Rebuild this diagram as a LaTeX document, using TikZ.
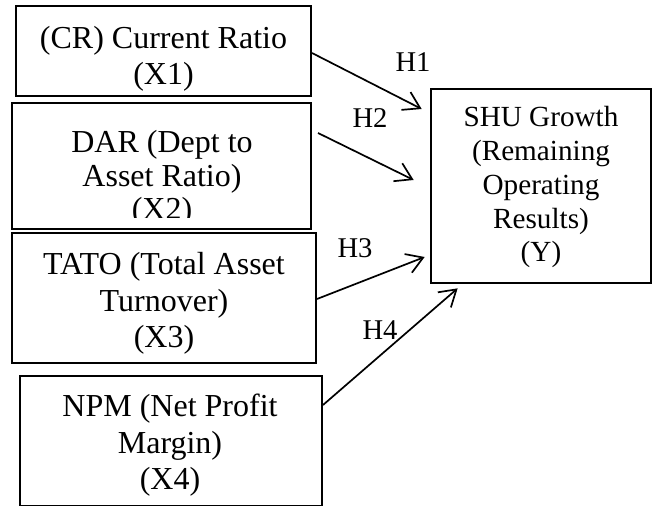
\documentclass[tikz,border=0pt]{standalone}
\usepackage{fontspec}
\setmainfont{Liberation Serif}
\usetikzlibrary{arrows.meta}
\tikzset{>={Straight Barb[length=8pt, width=10pt]}}
\tikzset{var-box/.style={draw, line width=1pt, inner sep=0}}
\tikzset{var-text/.style={align=center, inner sep=0, anchor=base, font={\fontsize{16}{18.35}\selectfont}}}
\tikzset{dep-box/.style={draw, line width=1.35pt, inner sep=0, minimum width=110pt, minimum height=97pt}}
\tikzset{dep-text/.style={align=center, inner sep=0, anchor=base, font={\fontsize{14.6}{16.9}\selectfont}}}
\tikzset{hyp-line/.style={->, line width=0.85pt}}
\tikzset{hyp-label/.style={anchor=base, inner sep=0, font={\fontsize{14.3}{16}\selectfont}}}
\begin{document}
\begin{tikzpicture}[x=0.5pt, y=-0.5pt]
    \useasboundingbox (0,0) rectangle (653,506);

    % independent variables (text placed by its last baseline)
    \node[var-box, minimum width=147.5pt, minimum height=45pt] (cr) at (163.5,51) {};
    \node[var-text] (cr-text) at (163.5,85) {(CR) Current Ratio\\(X1)};

    \node[var-box, minimum width=149.5pt, minimum height=63pt] (dar) at (161.5,166) {};
    \begin{scope}
        \clip (dar.north west) rectangle ([yshift=6pt]dar.south east);
        \node[var-text, font={\fontsize{16}{16.8}\selectfont}] (dar-text) at (162,220) {DAR (Dept to\\Asset Ratio)\\(X2)};
    \end{scope}

    \node[var-box, minimum width=152pt, minimum height=65pt] (tato) at (164,298) {};
    \node[var-text] (tato-text) at (164,348) {TATO (Total Asset\\Turnover)\\(X3)};

    \node[var-box, minimum width=151pt, minimum height=65pt] (npm) at (171,441) {};
    \node[var-text] (npm-text) at (170,490) {NPM (Net Profit\\Margin)\\(X4)};

    % dependent variable
    \node[dep-box] (shu) at (541,186) {};
    \node[dep-text] (shu-text) at (541,262) {SHU Growth\\(Remaining\\Operating\\Results)\\(Y)};

    % arrow ends
    \coordinate (h1-in) at ([xshift=-4pt, yshift=38.5pt]shu.west);
    \coordinate (h2-in) at ([xshift=-8pt, yshift=3pt]shu.west);
    \coordinate (h3-in) at ([xshift=-2.5pt, yshift=-35.5pt]shu.west);
    \coordinate (h4-in) at ([xshift=14pt, yshift=-2pt]shu.south west);

    \draw[hyp-line] ([yshift=-1pt]cr.east) -- (h1-in);
    \draw[hyp-line] ([xshift=3pt, yshift=16.5pt]dar.east) -- (h2-in);
    \draw[hyp-line] ([yshift=-0.5pt]tato.east) -- (h3-in);
    \draw[hyp-line] ([yshift=18pt]npm.east) -- (h4-in);

    \node[hyp-label] (h1) at (413,72) {H1};
    \node[hyp-label] (h2) at (370,128) {H2};
    \node[hyp-label] (h3) at (355,258) {H3};
    \node[hyp-label] (h4) at (380,340) {H4};
\end{tikzpicture}
\end{document}
